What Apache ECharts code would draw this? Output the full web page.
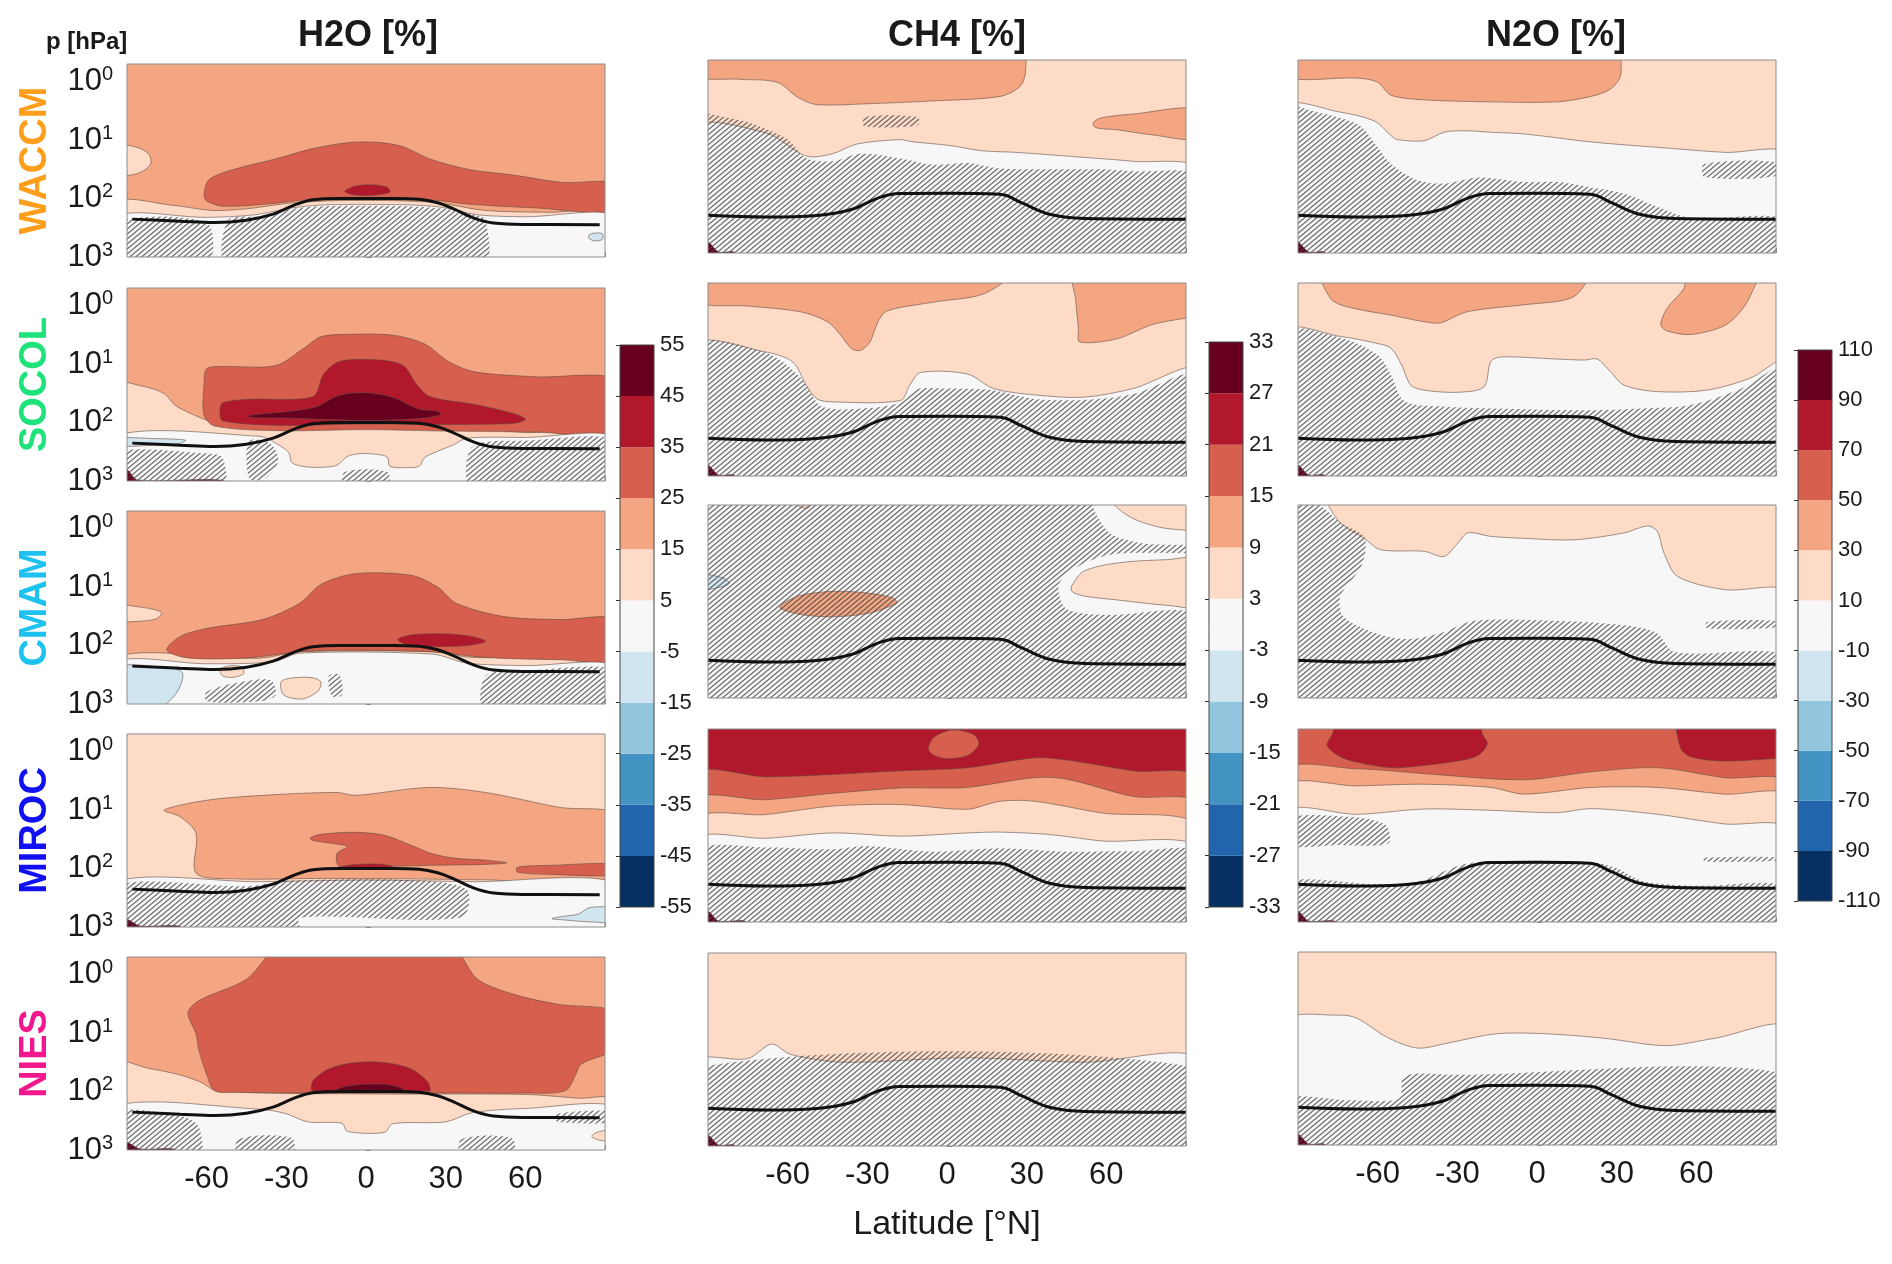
<!DOCTYPE html>
<html>
<head>
<meta charset="utf-8">
<title>H2O, CH4, N2O response</title>
<script src="https://cdn.jsdelivr.net/npm/echarts@6/dist/echarts.min.js"></script>
<style>
  html, body { margin: 0; padding: 0; background: #fff; }
  #chart { width: 1892px; height: 1264px; }
</style>
</head>
<body>
<div id="chart"></div>
<script>
// ---- labels and levels ----
const models = ['WACCM', 'SOCOL', 'CMAM', 'MIROC', 'NIES']
const speciesTitles = ['H2O [%]', 'CH4 [%]', 'N2O [%]']
const levelsH2O = [-55, -45, -35, -25, -15, -5, 5, 15, 25, 35, 45, 55]
const levelsCH4 = [-33, -27, -21, -15, -9, -3, 3, 9, 15, 21, 27, 33]
const levelsN2O = [-110, -90, -70, -50, -30, -10, 10, 30, 50, 70, 90, 110]

// tropopause (lat, hPa)
const tropoH2O = [[-88,225],[-70,245],[-57,258],[-45,235],[-35,185],[-27,130],[-20,105],[-10,100],[10,100],[20,103],[27,118],[33,150],[40,210],[48,262],[60,278],[88,280]]
const tropoTrace = [[-90,227],[-68,243],[-49,228],[-36,180],[-26,115],[-18,96],[0,95],[20,99],[28,138],[39,220],[52,257],[90,265]]

// whole panel, used as the background field
const panelBox = [[-95,0.3],[95,0.3],[95,1400],[-95,1400]]

// ---- contour regions: [value %, [[lat, hPa], ...]] painted in order ----
const h2oWaccm = [
  [20, panelBox],
  [10, [[-95,12.5],[-87,13],[-82,17],[-81,25],[-84,34],[-89,40],[-95,40]]],
  [10, [[-95,118],[-72,132],[-58,160],[-45,150],[-30,122],[-15,110],[0,108],[15,110],[28,120],[45,160],[70,172],[95,170],[95,1400],[-95,1400]]],
  [30, [[-61,85],[-59,47],[-49,31],[-34,21],[-20,14],[-6,11],[5,11],[14,13],[24,21],[39,32],[56,40],[74,53],[95,56],[95,162],[64,145],[39,125],[24,105],[5,100],[-20,103],[-37,124],[-54,135],[-60,110]]],
  [40, [[-8,75],[-4,61],[2,58],[8,64],[9,78],[2,88],[-5,86]]],
  [0, [[-95,205],[-60,210],[-42,190],[-28,145],[-15,128],[15,128],[28,140],[42,190],[60,205],[95,200],[95,1400],[-95,1400]]],
  [-10, [[84,420],[86,390],[89,400],[89,500],[86,530],[84,480]]],
]
const h2oWaccmHatch = [
  [[-95,262],[-60,262],[-60,1400],[-95,1400]],
  [[-52,235],[-40,200],[-28,150],[-15,135],[15,135],[30,150],[40,185],[45,230],[44,1400],[-52,1400]],
]

const h2oSocol = [
  [20, panelBox],
  [10, [[-95,22],[-84,24],[-76,32],[-72,50],[-66,70],[-58,95],[-30,112],[0,105],[30,112],[60,148],[95,150],[95,1400],[-95,1400]]],
  [30, [[-61,22],[-60,12],[-54,11],[-34,10.6],[-23,5.2],[-17,3.4],[-6,3.1],[10,3.2],[22,4.5],[31,9],[41,13.6],[64,16.5],[95,19],[95,150],[64,145],[30,140],[0,132],[-33,138],[-57,115],[-61,74]]],
  [40, [[-55,63],[-54,46],[-44,40],[-20,36],[-16,15],[-10,9],[5,8.5],[14,10.6],[19,22],[24,36],[41,49],[56,71],[60,88],[56,103],[30,108],[0,106],[-33,112],[-54,93]]],
  [50, [[-44,76],[-20,56],[-10,34],[0,31],[10,37],[20,59],[27,64],[28,74],[20,85],[0,92],[-30,84],[-44,82]]],
  [0, [[-95,172],[-40,172],[-33,240],[-29,330],[-28,480],[-24,560],[-18,585],[-11,540],[-7,380],[-2,340],[4,350],[8,390],[9,560],[15,590],[20,560],[22,400],[27,310],[33,240],[38,185],[60,180],[95,180],[95,1400],[-95,1400]]],
  [-10, [[-95,186],[-80,188],[-68,200],[-70,228],[-80,245],[-95,248]]],
  [50, [[-95,600],[-90,640],[-86,960],[-54,968],[-54,1400],[-95,1400]]],
]
const h2oSocolHatch = [
  [[-95,330],[-60,340],[-54,400],[-54,1400],[-95,1400]],
  [[-44,210],[-36,230],[-33,450],[-38,900],[-44,900]],
  [[-8,700],[8,700],[8,1400],[-8,1400]],
  [[40,260],[60,205],[95,205],[95,1400],[40,1400]],
]

const h2oCmam = [
  [20, panelBox],
  [10, [[-95,21],[-85,22],[-77,27],[-79,35],[-88,39],[-95,38]]],
  [10, [[-95,160],[-40,165],[-25,128],[25,128],[40,160],[95,175],[95,1400],[-95,1400]]],
  [30, [[-75,120],[-70,70],[-60,51],[-39,36],[-25,19],[-17,9],[-4,5.9],[17,6.3],[27,10],[34,19],[52,32],[73,36],[95,36],[95,175],[73,175],[45,160],[25,128],[-11,120],[-25,128],[-45,163],[-67,163]]],
  [40, [[12,78],[18,65],[30,63],[40,70],[45,85],[38,100],[25,104],[15,95]]],
  [0, [[-95,195],[-60,205],[-35,190],[-25,135],[25,140],[38,200],[60,220],[95,225],[95,1400],[-95,1400]]],
  [10, [[-55,260],[-52,225],[-47,230],[-46,300],[-50,350],[-54,330]]],
  [10, [[-32,420],[-28,360],[-20,355],[-17,420],[-18,600],[-24,820],[-31,700]]],
  [-10, [[-95,245],[-72,250],[-69,300],[-70,500],[-73,800],[-80,1400],[-95,1400]]],
]
const h2oCmamHatch = [
  [[45,330],[60,268],[95,268],[95,1400],[45,1400]],
  [[-60,620],[-48,430],[-36,390],[-34,700],[-40,900],[-60,900]],
  [[-14,330],[-10,320],[-9,700],[-13,720]],
]

const h2oMiroc = [
  [10, panelBox],
  [20, [[-76,10],[-60,6.8],[-39,5.6],[-11,5],[-4,5.6],[24,4.1],[45,5],[73,9],[95,12.5],[95,155],[45,156],[15,150],[-20,148],[-50,150],[-64,120],[-64,25],[-70,13]]],
  [30, [[-21,30],[-17,26],[-4,24],[7,27],[17,40],[25,56],[34,67],[45,72],[53,80],[45,85],[24,88],[3,93],[-10,93],[-11,56],[-7,42],[-13,37],[-20,33]]],
  [30, [[57,95],[70,88],[95,85],[95,128],[70,126],[57,115]]],
  [40, [[-10,95],[-4,85],[5,84],[10,92],[5,99],[-5,99]]],
  [0, [[-95,172],[-40,168],[0,158],[40,168],[95,178],[95,1400],[-95,1400]]],
  [-10, [[70,720],[74,660],[80,600],[84,470],[90,450],[95,460],[95,800],[85,820],[75,760]]],
  [50, [[-95,700],[-90,740],[-85,960],[-70,970],[-70,1400],[-95,1400]]],
]
const h2oMirocHatch = [
  [[-95,200],[-45,200],[-28,160],[20,160],[38,230],[36,690],[-25,690],[-25,1400],[-95,1400]],
]

const h2oNies = [
  [20, panelBox],
  [10, [[-95,32],[-82,40],[-70,52],[-62,70],[-56,98],[0,110],[60,112],[80,130],[95,140],[95,1400],[-95,1400]]],
  [30, [[-31,0.3],[-45,1.2],[-63,2.8],[-67,4.5],[-64,10.4],[-63,19],[-60,51],[-57,97],[-49,103],[-25,106],[3,106],[31,106],[59,106],[75,97],[79,51],[81,34],[95,17],[95,4.5],[72,3.2],[56,2.2],[42,1.2],[31,0.3]]],
  [40, [[-20,66],[-14,41],[-4,32],[7,32],[17,41],[23,66],[24,83],[24,98],[-20,98]]],
  [50, [[-12,97],[-8,82],[0,75],[8,76],[14,90],[14,100],[-12,100]]],
  [0, [[-95,180],[-40,200],[-30,240],[-22,330],[-9,350],[-7,480],[7,500],[10,355],[30,330],[40,230],[60,195],[95,190],[95,1400],[-95,1400]]],
  [10, [[95,460],[88,480],[85,580],[88,680],[95,700]]],
  [50, [[-95,700],[-90,740],[-85,960],[-72,970],[-72,1400],[-95,1400]]],
]
const h2oNiesHatch = [
  [[-95,230],[-70,260],[-63,400],[-63,1400],[-95,1400]],
  [[-48,650],[-28,620],[-28,1400],[-48,1400]],
  [[36,650],[55,630],[55,1400],[36,1400]],
  [[72,240],[95,220],[95,330],[72,330]],
]

const ch4Waccm = [
  [6, panelBox],
  [12, [[-95,0.3],[-95,0.93],[-78,1.07],[-64,1.2],[-56,2.2],[-49,2.9],[-30,2.8],[-5,2.5],[20,2.1],[27.6,1.4],[29.6,0.76],[28,0.3]]],
  [12, [[55,6],[58,4.9],[70,4.2],[95,3.5],[95,10.8],[77,9.5],[64,7.8],[56,7.2]]],
  [0, [[-95,7.3],[-68,8.9],[-53,22],[-43,20],[-34,13.7],[-18,11.5],[-13,12.5],[1,14.5],[13,17.8],[26,19],[45,22],[70,27],[95,37],[95,1400],[-95,1400]]],
  [30, [[-95,620],[-90,650],[-86,960],[-80,968],[-80,1400],[-95,1400]]],
]
const ch4WaccmHatch = [
  [[-95,4.9],[-80,5.1],[-69,7.3],[-60,11.5],[-53,24],[-43,27],[-33,20],[-18,24],[-5,31],[8,29],[18,35],[33,37],[58,37],[70,40],[95,50],[95,1400],[-95,1400]],
  [[-31,4.7],[-11,4.7],[-11,6.5],[-31,6.8]],
]

const ch4Socol = [
  [6, panelBox],
  [12, [[-95,0.3],[-95,1.03],[-74,1.25],[-55,1.56],[-45,2.3],[-40,3.9],[-36,6.6],[-32.5,7.1],[-29,5.1],[-26,2.3],[-22.5,1.5],[-5,1.06],[14,0.76],[25,0.3]]],
  [12, [[48,0.3],[48.5,1.0],[49.5,3],[50,5.1],[64,4.5],[77,2.6],[90,2.0],[95,2.0],[95,0.3]]],
  [0, [[-95,5.8],[-68,7.6],[-58,11.3],[-53,28],[-49,48],[-43,54],[-17.5,51],[-14,28],[-10,17],[7.6,18],[17.6,32],[33,41],[51.5,45],[70,32],[95,15],[95,1400],[-95,1400]]],
  [30, [[-95,620],[-90,650],[-86,960],[-80,968],[-80,1400],[-95,1400]]],
]
const ch4SocolHatch = [
  [[-95,5.9],[-68,7.8],[-55,21],[-47,65],[-30,69],[-17,54],[-12,33],[0,32],[17,34],[33,48],[52,50],[70,40],[95,19],[95,1400],[-95,1400]],
]

const ch4Cmam = [
  [0, panelBox],
  [6, [[60,0.3],[63,0.5],[70,0.85],[80,1.2],[90,1.35],[95,1.35],[95,0.3]]],
  [6, [[-57,0.3],[-56,0.52],[-52,0.55],[-50,0.3]]],
  [6, [[47,12],[51.5,6.8],[64,4.9],[83,4.3],[95,4.3],[95,26],[83,26],[64,21],[51.5,18],[47,15]]],
  [12, [[-63,28],[-56,18],[-43,15],[-30,16],[-20,19.6],[-19,24],[-30,36],[-45,41],[-57,36]]],
  [-6, [[-95,8],[-90,7.8],[-84,9],[-82,11],[-88,13.5],[-95,13.7]]],
]
const ch4CmamHatch = [
  [[-95,0.3],[52,0.3],[56,0.7],[62,1.6],[75,2.3],[95,2.5],[95,3.2],[62,3.5],[48,6],[42,12],[45,30],[60,38],[95,40],[95,1400],[-95,1400]],
]

const ch4Miroc = [
  [24, panelBox],
  [18, [[-95,3.1],[-68,3.3],[-43,3.0],[-17.5,2.6],[7.6,2.3],[33,1.56],[45,1.7],[70,2.6],[95,3.6],[95,1400],[-95,1400]]],
  [12, [[-95,8.6],[-68,8.1],[-43,6.3],[-17.5,5.1],[-5,5.1],[7.6,5.0],[33,3.4],[45,3.6],[70,7.1],[95,9.8],[95,1400],[-95,1400]]],
  [6, [[-95,18],[-68,14.5],[-43,10.4],[-17.5,9.8],[7.6,11.8],[20,8.6],[33,8.6],[58,13.6],[95,23],[95,1400],[-95,1400]]],
  [0, [[-95,39],[-68,37],[-43,30],[-17.5,34],[7.6,30],[20,29],[39,32],[58,41],[95,53],[95,1400],[-95,1400]]],
  [18, [[-7,1.1],[-5,0.7],[2,0.52],[10,0.62],[12,0.9],[8,1.4],[0,1.6],[-5,1.4]]],
  [30, [[-95,620],[-90,650],[-86,960],[-76,968],[-76,1400],[-95,1400]]],
]
const ch4MirocHatch = [
  [[-95,61],[-68,53],[-43,57],[-30,50],[-5,63],[20,55],[45,63],[70,62],[95,66],[95,1400],[-95,1400]],
]

const ch4Nies = [
  [6, panelBox],
  [0, [[-95,36],[-75,32],[-66,18],[-59,27],[-39,37],[7,31],[52,37],[95,32],[95,1400],[-95,1400]]],
  [30, [[-95,620],[-90,650],[-86,960],[-80,968],[-80,1400],[-95,1400]]],
]
const ch4NiesHatch = [
  [[-95,46],[95,46],[95,1400],[-95,1400]],
]

const n2oWaccm = [
  [20, panelBox],
  [40, [[-95,0.3],[-95,0.96],[-67.6,1.02],[-60,1.2],[-55,2.0],[-42.5,2.4],[-17.4,2.6],[7.7,2.6],[20.3,2.1],[27.8,1.56],[31.6,0.87],[29,0.3]]],
  [0, [[-95,3.2],[-74,3.9],[-61,5.6],[-55,9.8],[-52.6,11.5],[-42.5,12],[-35,8.6],[-27.4,8.1],[-17.4,8.6],[-4.8,9.2],[20.3,12.6],[45.4,15.6],[70.6,19],[95,21],[95,1400],[-95,1400]]],
  [100, [[-95,620],[-90,650],[-86,960],[-80,968],[-80,1400],[-95,1400]]],
]
const n2oWaccmHatch = [
  [[-95,3.2],[-84,3.8],[-67,6.5],[-60,15.6],[-55,30],[-45,57],[-35,65],[-22,51],[-5,61],[8,61],[20,75],[33,97],[45,160],[58,250],[95,270],[95,1400],[-95,1400]],
  [[63,30],[90,28],[90,48],[63,50]],
]

const n2oSocol = [
  [20, panelBox],
  [40, [[-82,0.3],[-80,0.61],[-76.4,1.05],[-67.6,1.4],[-55,1.77],[-42.5,2.3],[-36.2,2.4],[-27.4,1.6],[-17.4,1.35],[-4.8,1.18],[14,0.85],[19,0.3]]],
  [40, [[56.6,0.3],[55.4,0.61],[49,1.35],[46.6,2.6],[49,3.3],[58,3.8],[70.5,2.7],[76.8,1.5],[80.5,0.8],[83,0.3]]],
  [0, [[-95,3.3],[-74,4.1],[-61,5.3],[-55,6.5],[-51,12.6],[-47.5,28],[-42.5,34],[-30,37],[-20,30],[-17.4,11],[-13.6,9.2],[7.7,10],[17.8,10.4],[22.7,10],[27.7,16.5],[32.8,28],[45.4,36],[64,34],[80.5,21],[95,9.8],[95,1400],[-95,1400]]],
  [100, [[-95,620],[-90,650],[-86,960],[-80,968],[-80,1400],[-95,1400]]],
]
const n2oSocolHatch = [
  [[-95,3.5],[-74,4.3],[-60,8.5],[-55,18.5],[-50,52],[-36,65],[-17,70],[20,75],[39,70],[58,61],[77,32],[95,12.6],[95,1400],[-95,1400]],
]

const n2oCmam = [
  [20, panelBox],
  [0, [[-95,0.3],[-83,0.3],[-74,1.02],[-65,1.86],[-59,2.9],[-42.5,3.1],[-35,3.8],[-30,2.3],[-26,1.5],[-17.4,1.72],[-4.8,1.86],[14,1.97],[32.8,1.5],[41.6,1.14],[45.3,1.4],[47.8,3.3],[52.9,8.3],[70.5,14],[95,16],[95,1400],[-95,1400]]],
]
const n2oCmamHatch = [
  [[-95,0.3],[-82,0.5],[-74,1.0],[-65,1.8],[-66,5.4],[-74,18],[-73,40],[-61,77],[-49,98],[-36,77],[-24,48],[8,48],[33,57],[45,77],[52,165],[95,190],[95,1400],[-95,1400]],
  [[64,50],[90,48],[90,62],[64,64]],
]

const n2oMiroc = [
  [60, panelBox],
  [80, [[-74,0.3],[-77,0.6],[-79,0.97],[-74,1.5],[-67.6,1.86],[-55,2.3],[-42.5,2.1],[-30,1.77],[-22.4,1.43],[-18.7,0.9],[-20.6,0.61],[-22.4,0.3]]],
  [80, [[53.6,0.3],[54,1.05],[58,1.5],[70.5,1.77],[90,1.6],[95,1.6],[95,0.3]]],
  [40, [[-95,2.7],[-67.6,2.4],[-42.5,2.9],[-4.8,3.7],[20.3,2.7],[45.4,2.3],[70.5,3.4],[95,4.4],[95,1400],[-95,1400]]],
  [20, [[-95,5.0],[-67.6,4.7],[-42.5,4.4],[-17.4,5.0],[-4.8,6.5],[20.3,5.0],[45.4,5.0],[70.5,6.5],[95,7.4],[95,1400],[-95,1400]]],
  [0, [[-95,13.5],[-67.6,14.4],[-42.5,11.7],[-17.4,12.3],[7.7,13.5],[20.3,11.5],[45.4,14.4],[70.5,21],[95,26],[95,1400],[-95,1400]]],
  [100, [[-95,620],[-90,650],[-86,960],[-76,968],[-76,1400],[-95,1400]]],
]
const n2oMirocHatch = [
  [[-95,17],[-70,16],[-57,22],[-56,45],[-75,48],[-95,48]],
  [[-95,215],[-60,225],[-45,205],[-30,110],[-20,92],[20,94],[30,120],[40,200],[60,240],[95,250],[95,1400],[-95,1400]],
  [[63,80],[90,78],[90,90],[63,92]],
]

const n2oNies = [
  [20, panelBox],
  [0, [[-95,7.8],[-74.5,6.0],[-67.7,6.8],[-56.3,14.5],[-44.9,22],[-33.5,18],[-15.3,12.5],[2.9,12.5],[25.7,15],[48.5,20],[66.8,15],[95,10],[95,1400],[-95,1400]]],
  [100, [[-95,620],[-90,650],[-86,960],[-80,968],[-80,1400],[-95,1400]]],
]
const n2oNiesHatch = [
  [[-95,170],[-70,172],[-52,160],[-50,66],[-30,63],[95,63],[95,1400],[-95,1400]],
]

// ---- assembly ----
const fills = [
  [h2oWaccm, ch4Waccm, n2oWaccm],
  [h2oSocol, ch4Socol, n2oSocol],
  [h2oCmam, ch4Cmam, n2oCmam],
  [h2oMiroc, ch4Miroc, n2oMiroc],
  [h2oNies, ch4Nies, n2oNies],
]
const hatches = [
  [h2oWaccmHatch, ch4WaccmHatch, n2oWaccmHatch],
  [h2oSocolHatch, ch4SocolHatch, n2oSocolHatch],
  [h2oCmamHatch, ch4CmamHatch, n2oCmamHatch],
  [h2oMirocHatch, ch4MirocHatch, n2oMirocHatch],
  [h2oNiesHatch, ch4NiesHatch, n2oNiesHatch],
]
const levels = [levelsH2O, levelsCH4, levelsN2O]
const tropo = [tropoH2O, tropoTrace, tropoTrace]

const palette = ['#053061', '#2166AC', '#4393C3', '#92C5DE', '#D1E5F0', '#F7F7F7', '#FDDBC7', '#F4A582', '#D6604D', '#B2182B', '#67001F']
const modelColors = ['#FF9E1B', '#1EE27A', '#1DC2F0', '#1010F2', '#F2178D']
const font = "'Liberation Sans', Arial, Helvetica, sans-serif"

const colLeft = [127, 708, 1298]
const rowTop = [[64, 288, 511, 734, 957], [60, 283, 505, 729, 953], [60, 283, 505, 729, 952]]
const panelW = 478
const panelH = 193
const bars = [
  { left: 620, top: 345, height: 562 },
  { left: 1209, top: 342, height: 565 },
  { left: 1798, top: 350, height: 551 },
]

function binOf(v, lv) {
  let i = 0
  while (i < lv.length - 2 && v >= lv[i + 1]) i++
  return i
}

// diagonal hatch tile (about 39 degrees, 5 px apart vertically)
const tileW = 6
const tileH = 5
const tile = document.createElement('canvas')
tile.width = tileW
tile.height = tileH
const tc = tile.getContext('2d')
tc.strokeStyle = 'rgba(70,70,70,0.8)'
tc.lineWidth = 1.25
for (let n = -1; n <= 1; n++) {
  tc.beginPath()
  tc.moveTo(-tileW, tileH + n * tileH + tileH)
  tc.lineTo(2 * tileW, n * tileH - tileH)
  tc.stroke()
}
const hatchFill = { image: tile, repeat: 'repeat' }

function fillRender(shapes, lv) {
  return function (params, api) {
    const s = shapes[params.dataIndex]
    return {
      type: 'polygon',
      shape: { points: s[1].map((q) => api.coord(q)), smooth: 0.3 },
      style: {
        fill: palette[binOf(s[0], lv)],
        stroke: 'rgba(95,75,65,0.65)',
        lineWidth: 0.9,
      },
    }
  }
}

function hatchRender(polys) {
  return function (params, api) {
    const p = polys[params.dataIndex]
    return {
      type: 'polygon',
      shape: { points: p.map((q) => api.coord(q)), smooth: 0.3 },
      style: { fill: hatchFill, stroke: null },
    }
  }
}

function powLabel(v) {
  const l = Math.log10(v)
  const e = Math.round(l)
  if (Math.abs(l - e) > 1e-6) return ''
  return '{b|10}{s|' + e + '}'
}

const grid = []
const xAxis = []
const yAxis = []
const series = []

for (let r = 0; r < 5; r++) {
  for (let c = 0; c < 3; c++) {
    const k = grid.length
    grid.push({
      left: colLeft[c], top: rowTop[c][r], width: panelW, height: panelH,
      show: true, borderColor: '#8c8c8c', borderWidth: 1, z: 10,
    })
    const xa = {
      gridIndex: k, type: 'value', min: -90, max: 90, interval: 30,
      axisLine: { show: false }, splitLine: { show: false },
      axisTick: { show: true, inside: true, length: 5, lineStyle: { color: '#888' } },
      axisLabel: {
        show: r === 4, margin: 14, fontSize: 31, color: '#1a1a1a', fontFamily: font,
        formatter: (v) => (Math.abs(v) === 90 ? '' : String(v)),
      },
    }
    if (r === 4 && c === 1) {
      xa.name = 'Latitude [°N]'
      xa.nameLocation = 'middle'
      xa.nameGap = 62
      xa.nameTextStyle = { fontSize: 34, color: '#1a1a1a', fontFamily: font }
    }
    xAxis.push(xa)
    const ya = {
      gridIndex: k, type: 'log', logBase: 10, min: 0.5, max: 1000, inverse: true,
      axisLine: { show: false }, splitLine: { show: false },
      axisTick: { show: true, inside: true, length: 5, lineStyle: { color: '#888' } },
      axisLabel: {
        show: c === 0, margin: 14, formatter: powLabel,
        rich: {
          b: { fontSize: 31, lineHeight: 34, color: '#1a1a1a', fontFamily: font },
          s: { fontSize: 20, lineHeight: 18, verticalAlign: 'top', color: '#1a1a1a', fontFamily: font },
        },
      },
    }
    if (c === 0) {
      ya.name = models[r]
      ya.nameLocation = 'middle'
      ya.nameRotate = 90
      ya.nameGap = 72
      ya.nameTextStyle = { fontSize: 38, fontWeight: 'bold', color: modelColors[r], fontFamily: font }
    }
    yAxis.push(ya)

    const shapes = fills[r][c]
    series.push({
      type: 'custom', xAxisIndex: k, yAxisIndex: k, clip: true, silent: true, z: 2,
      renderItem: fillRender(shapes, levels[c]),
      data: shapes.map((s) => [s[1][0][0], s[1][0][1], s[0]]),
    })
    const hp = hatches[r][c]
    series.push({
      type: 'custom', xAxisIndex: k, yAxisIndex: k, clip: true, silent: true, z: 3,
      renderItem: hatchRender(hp),
      data: hp.map((p) => [p[0][0], p[0][1]]),
    })
    series.push({
      type: 'line', xAxisIndex: k, yAxisIndex: k, data: tropo[c], smooth: 0.4,
      symbol: 'none', silent: true, z: 4,
      lineStyle: { color: '#111', width: 3 },
    })
  }
}

// colour bars
for (let c = 0; c < 3; c++) {
  const k = grid.length
  const lv = levels[c]
  grid.push({
    left: bars[c].left, top: bars[c].top, width: 34, height: bars[c].height,
    show: true, borderColor: '#444', borderWidth: 1, z: 10,
  })
  xAxis.push({ gridIndex: k, type: 'value', min: 0, max: 1, show: false })
  yAxis.push({
    gridIndex: k, type: 'value', min: 0, max: 11, interval: 1, position: 'right',
    axisLine: { show: false }, splitLine: { show: false },
    axisTick: { show: true, inside: true, length: 4, lineStyle: { color: '#333' } },
    axisLabel: {
      margin: 6, fontSize: 22, color: '#1a1a1a', fontFamily: font,
      formatter: (v) => String(lv[v]),
    },
  })
  series.push({
    type: 'custom', xAxisIndex: k, yAxisIndex: k, silent: true,
    renderItem: function (params, api) {
      const a = api.coord([0, params.dataIndex + 1])
      const b = api.coord([1, params.dataIndex])
      return {
        type: 'rect',
        shape: { x: a[0], y: a[1], width: b[0] - a[0], height: b[1] - a[1] },
        style: { fill: palette[params.dataIndex] },
      }
    },
    data: palette.map((col, i) => [0, i]),
  })
}

const titleCenters = [363, 952, 1551]
const title = speciesTitles.map((t, c) => ({
  text: t, left: titleCenters[c], top: 13, textAlign: 'center',
  textStyle: { fontSize: 36, fontWeight: 'bold', color: '#1a1a1a', fontFamily: font },
}))
title.push({
  text: 'p [hPa]', left: 41, top: 25,
  textStyle: { fontSize: 24, fontWeight: 'bold', color: '#1a1a1a', fontFamily: font },
})

const chart = echarts.init(document.getElementById('chart'))
chart.setOption({
  animation: false,
  backgroundColor: '#ffffff',
  title: title,
  grid: grid,
  xAxis: xAxis,
  yAxis: yAxis,
  series: series,
})
</script>
</body>
</html>
